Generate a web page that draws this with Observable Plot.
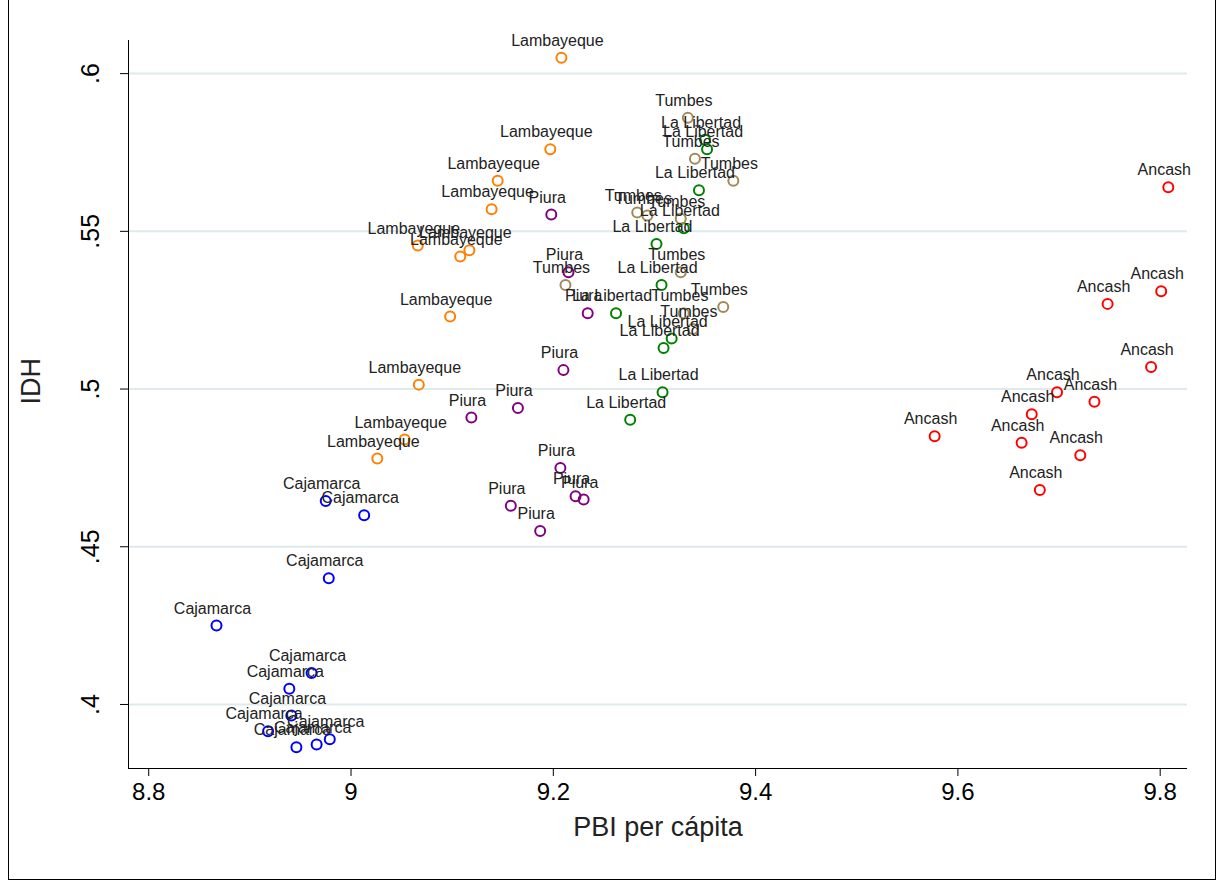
<!DOCTYPE html>
<html>
<head>
<meta charset="utf-8">
<script src="https://cdn.jsdelivr.net/npm/d3@7"></script>
<script src="https://cdn.jsdelivr.net/npm/@observablehq/plot@0.6"></script>
<style>
  body { margin: 0; background: #fff; }
  #chart svg { display: block; }
  #chart { position: relative; width: 1216px; height: 881px; }
  #frame { position: absolute; left: 8px; top: 0; width: 1206px; height: 879px; border: 1px solid #000; border-top: none; pointer-events: none; }
</style>
</head>
<body>
<div id="chart"><div id="frame"></div></div>
<script>
const regions = ["Cajamarca", "Lambayeque", "Piura", "La Libertad", "Tumbes", "Ancash"];
const colors = ["#0000ff", "#ff8000", "#800080", "#008000", "#a08a5a", "#ff0000"];

const cajamarca = [[8.867,.425],[8.978,.440],[8.975,.4645],[9.013,.460],[8.961,.410],[8.939,.405],[8.941,.3965],[8.918,.3915],[8.946,.3864],[8.966,.3873],[8.979,.389]];
const lambayeque = [[9.208,.605],[9.197,.576],[9.145,.566],[9.139,.557],[9.066,.5455],[9.117,.544],[9.108,.542],[9.098,.523],[9.067,.5014],[9.053,.484],[9.026,.478]];
const piura = [[9.198,.5553],[9.215,.537],[9.234,.524],[9.210,.506],[9.165,.494],[9.119,.491],[9.207,.475],[9.222,.466],[9.230,.465],[9.158,.463],[9.187,.455]];
const laLibertad = [[9.350,.579],[9.352,.576],[9.344,.563],[9.329,.551],[9.302,.546],[9.307,.533],[9.262,.524],[9.317,.516],[9.309,.513],[9.308,.499],[9.276,.4903]];
const tumbes = [[9.333,.586],[9.340,.573],[9.378,.566],[9.283,.556],[9.293,.555],[9.326,.554],[9.326,.537],[9.212,.533],[9.368,.526],[9.338,.519],[9.329,.524]];
const ancash = [[9.808,.564],[9.801,.531],[9.748,.527],[9.791,.507],[9.698,.499],[9.735,.496],[9.673,.492],[9.577,.485],[9.663,.483],[9.721,.479],[9.681,.468]];

const xTicks = [8.8, 9, 9.2, 9.4, 9.6, 9.8];
const yTicks = [.4, .45, .5, .55, .6];

const series = [cajamarca, lambayeque, piura, laLibertad, tumbes, ancash];
const data = series.flatMap((s, i) => s.map(([x, y]) => ({region: regions[i], x, y})));

const chart = Plot.plot({
  width: 1216,
  height: 881,
  marginLeft: 128,
  marginRight: 29,
  marginTop: 40,
  marginBottom: 113,
  style: {fontFamily: "Liberation Sans, Arial, sans-serif", background: "transparent"},
  x: {domain: [8.78, 9.827]},
  y: {domain: [.3797, .6105]},
  color: {domain: regions, range: colors},
  marks: [
    Plot.gridY(yTicks, {stroke: "#dfeaec", strokeOpacity: 1, strokeWidth: 2}),
    Plot.axisX(xTicks, {tickFormat: d => d3.format("~")(d), fontSize: 24, tickSize: 8, tickPadding: 6, label: null, stroke: "#000", color: "#000"}),
    Plot.axisY(yTicks, {tickFormat: d => d3.format("~")(d).replace(/^0/, ""), fontSize: 25, tickSize: 8, tickPadding: 22, tickRotate: -90, label: null, color: "#000"}),
    Plot.ruleX([8.78], {stroke: "#000"}),
    Plot.ruleY([.3797], {stroke: "#000"}),
    Plot.dot(data, {x: "x", y: "y", stroke: "region", r: 5, strokeWidth: 2, fill: "none"}),
    Plot.text(data, {x: "x", y: "y", text: "region", dy: -17, dx: -4, fontSize: 16, fill: "#222"}),
    Plot.text(["PBI per cápita"], {frameAnchor: "bottom", dy: 67, fontSize: 27, fill: "#222"}),
    Plot.text(["IDH"], {frameAnchor: "left", dx: -97, rotate: -90, fontSize: 27, fill: "#222"})
  ]
});
chart.style.overflow = "visible";
document.getElementById("chart").prepend(chart);
</script>
</body>
</html>
